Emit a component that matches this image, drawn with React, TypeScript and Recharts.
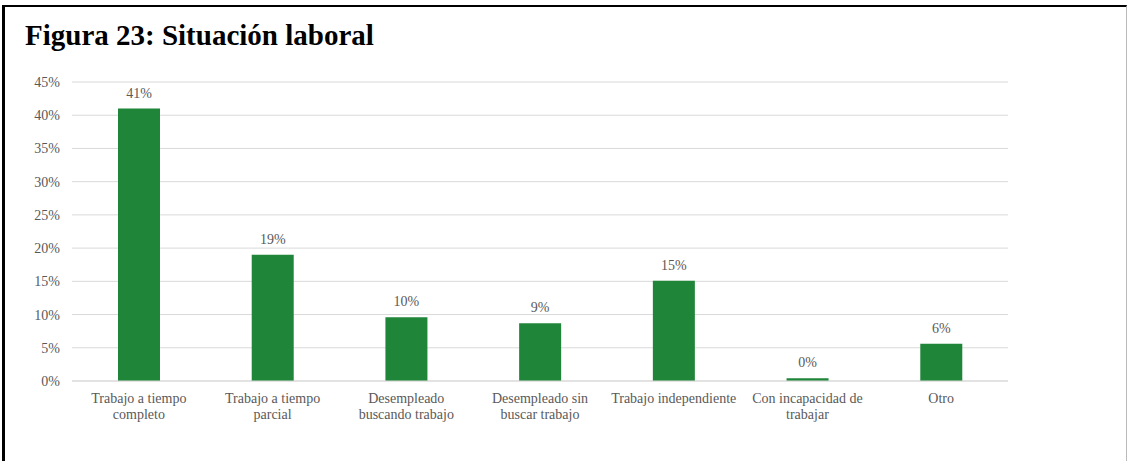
import React from 'react';
import { BarChart, Bar, XAxis, YAxis, CartesianGrid, LabelList } from 'recharts';

const categories = [
  'Trabajo a tiempo\ncompleto',
  'Trabajo a tiempo\nparcial',
  'Desempleado\nbuscando trabajo',
  'Desempleado sin\nbuscar trabajo',
  'Trabajo independiente',
  'Con incapacidad de\ntrabajar',
  'Otro',
];
const shares = [41, 19, 9.6, 8.7, 15.1, 0.4, 5.6];
const yTicks = [0, 5, 10, 15, 20, 25, 30, 35, 40, 45];

const data = categories.map((name, i) => ({ name, value: shares[i] }));

const FONT = '"Liberation Serif", "Times New Roman", serif';
const GRAY = '#595959';

function CategoryTick({ x, y, payload }: any) {
  const lines = String(payload.value).split('\n');
  return (
    <text x={x} y={y} textAnchor="middle" fill={GRAY} fontSize={14} fontFamily={FONT}>
      {lines.map((l, i) => (
        <tspan key={i} x={x} dy={i === 0 ? 10 : 16}>
          {l}
        </tspan>
      ))}
    </text>
  );
}

export default function App() {
  return (
    <div style={{ position: 'fixed', left: 0, top: 0, width: 1127, height: 461, background: '#fff', overflow: 'hidden' }}>
      <div
        style={{
          position: 'absolute',
          left: 2,
          top: 5,
          width: 1121,
          height: 470,
          borderLeft: '3px solid #000',
          borderTop: '2px solid #000',
          borderRight: '1px solid #bbb',
        }}
      />
      <div
        style={{
          position: 'absolute',
          left: 25,
          top: 21,
          fontFamily: FONT,
          fontWeight: 'bold',
          fontSize: 29,
          lineHeight: '29px',
          color: '#000',
          whiteSpace: 'nowrap',
        }}
      >
        Figura 23: Situación laboral
      </div>
      <div style={{ position: 'absolute', left: 0, top: 0 }}>
        <BarChart width={1127} height={461} data={data} margin={{ top: 82, right: 119, bottom: 0, left: 12 }}>
          <CartesianGrid vertical={false} stroke="#d9d9d9" strokeWidth={1} />
          <XAxis
            dataKey="name"
            interval={0}
            tickLine={false}
            axisLine={{ stroke: '#d9d9d9' }}
            tick={<CategoryTick />}
            tickMargin={6}
            height={80}
          />
          <YAxis
            width={60}
            domain={[0, 45]}
            ticks={yTicks}
            tickFormatter={(v) => `${v}%`}
            tickLine={false}
            axisLine={false}
            tickMargin={6}
            tick={{ fill: GRAY, fontSize: 14, fontFamily: FONT }}
          />
          <Bar dataKey="value" fill="#1f8539" barSize={42} isAnimationActive={false}>
            <LabelList
              dataKey="value"
              position="top"
              offset={11}
              formatter={(v: any) => `${Math.round(Number(v))}%`}
              fill={GRAY}
              fontSize={14}
              fontFamily={FONT}
            />
          </Bar>
        </BarChart>
      </div>
    </div>
  );
}
